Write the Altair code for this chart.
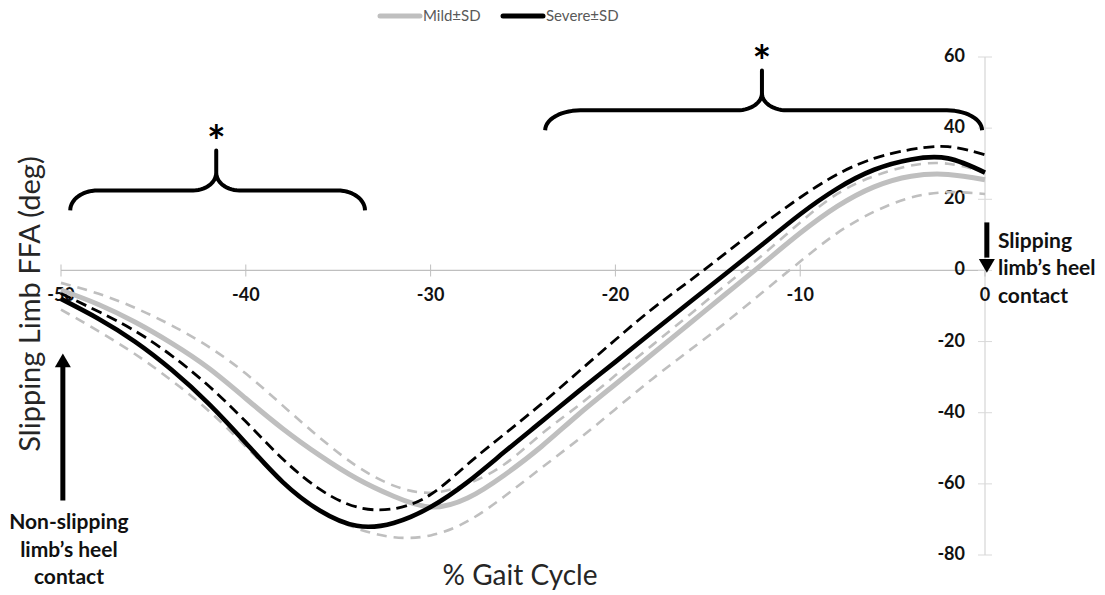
import math

import altair as alt
import pandas as pd

# Percent of the gait cycle, counted back from the slipping limb's heel contact
gait_pct = [-50, -48, -46, -44, -42, -40, -38, -36, -34, -32, -30, -28, -26,
            -24, -22, -20, -18, -16, -14, -12, -10, -8, -6, -4, -2, 0]

# Slipping-limb foot-floor angle (deg), mild slips
mild_mean = [-5.5, -9.5, -14.5, -20.5, -27.5, -36, -44.5, -52, -58.5, -63.5, -66.5, -64, -57.5,
             -49.5, -40.5, -32, -23.5, -15, -6.5, 2, 10.5, 18, 23.5, 26.5, 27, 25.5]
mild_plus_sd = [-3.5, -6.5, -10.5, -15.5, -21.5, -29, -38, -47, -55, -60.5, -62.5, -60, -54.5,
                -46, -38, -29.5, -21, -12.5, -4, 4.5, 13.5, 21.5, 26.5, 29.5, 30, 27.5]
mild_minus_sd = [-11, -17, -23.5, -31, -39.5, -49.5, -59.5, -67.5, -72.5, -75, -74.5, -70.5, -63.5,
                 -55.5, -47.5, -39, -30.5, -22.5, -14.5, -6, 2.5, 10.5, 16.5, 20.5, 22, 21.5]

# Slipping-limb foot-floor angle (deg), severe slips
severe_mean = [-8, -13.5, -20, -28, -37.5, -48.5, -59.5, -67.5, -71.8, -71, -66.5, -59.5, -51,
               -42.5, -34, -25.7, -17.3, -9, -0.8, 7.5, 15.8, 23, 28.3, 31.2, 31.5, 27.5]
severe_plus_sd = [-6.5, -11.5, -17, -24, -32.5, -42.5, -53, -61.5, -66.5, -67, -63, -54.5, -46,
                  -37.5, -28.5, -19.5, -10.8, -3, 5, 13, 20.5, 27, 31.5, 34, 34.8, 32.5]

group_names = ["Mild±SD", "Severe±SD"]
group_colors = ["#BFBFBF", "#000000"]
x_ticks = [-50, -40, -30, -20, -10, 0]
y_ticks = [-80, -60, -40, -20, 0, 20, 40, 60]

# Significance brackets: span, centre, heights (deg) and curl sizes
brace_specs = [
    dict(x0=-49.5, x1=-33.55, xm=-41.6, y_end=16.9, y_bar=22.5, y_tip=33.7,
         rx_end=1.5, rx_mid=1.25, ry_mid=5.0, star_y=38.8),
    dict(x0=-23.8, x1=-0.16, xm=-12.07, y_end=39.4, y_bar=45.0, y_tip=56.2,
         rx_end=1.9, rx_mid=1.35, ry_mid=4.8, star_y=61.3),
]

# Event arrows (x, shaft start, shaft end, head centre, head shape)
arrow_x = [-49.9, 0.1]
arrow_from = [-64.7, 13.5]
arrow_to = [-27.0, 3.6]
arrow_head_y = [-25.3, 1.3]
arrow_head = ["triangle-up", "triangle-down"]

note_right = ["Slipping", "limb’s heel", "contact"]
note_right_y = [7.9, 0.3, -7.4]
note_right_x = 0.7
note_left = ["Non-slipping", "limb’s heel", "contact"]
note_left_y = [-71.1, -79.0, -86.6]
note_left_x = -49.57

W, H = 924, 498
MARGIN = {"left": 61, "top": 57, "right": 120, "bottom": 40}
X_DOM = [-50, 0]
Y_DOM = [-80, 60]
FONT = "Lato"
INK = "#111111"

x_scale = alt.Scale(domain=X_DOM, nice=False, zero=False)
y_scale = alt.Scale(domain=Y_DOM, nice=False, zero=False)
color_scale = alt.Scale(domain=group_names, range=group_colors)


def pos(fx, fy):
    return dict(x=alt.X(fx, scale=x_scale, axis=None),
                y=alt.Y(fy, scale=y_scale, axis=None))


def series_frame(values, group, stat):
    return pd.DataFrame({"pct": gait_pct, "ffa": values, "group": group, "stat": stat})


# ---- axes: x axis runs along FFA = 0, y axis stands at 0 % gait cycle ----
axis_lines_df = pd.DataFrame({"ax0": [X_DOM[0], 0], "ax1": [X_DOM[1], 0],
                              "ay0": [0, Y_DOM[0]], "ay1": [0, Y_DOM[1]],
                              "c": ["#BFBFBF", "#D9D9D9"]})
axis_lines = alt.Chart(axis_lines_df).mark_rule(strokeWidth=1.3).encode(
    **pos("ax0:Q", "ay0:Q"), x2="ax1:Q", y2="ay1:Q", color=alt.Color("c:N", scale=None))

xtick_df = pd.DataFrame({"v": x_ticks, "zero": [0] * len(x_ticks),
                         "lab": [str(v) for v in x_ticks]})
ytick_df = pd.DataFrame({"v": y_ticks, "zero": [0] * len(y_ticks),
                         "lab": [str(v) for v in y_ticks]})

x_tick_marks = alt.Chart(xtick_df).mark_tick(orient="vertical", size=12, thickness=1,
                                             color="#BFBFBF", opacity=1).encode(
    **pos("v:Q", "zero:Q"))
y_tick_marks = alt.Chart(ytick_df).mark_tick(orient="horizontal", size=14, thickness=1,
                                             color="#D9D9D9", opacity=1).encode(
    **pos("zero:Q", "v:Q"))
x_labels = alt.Chart(xtick_df).mark_text(font=FONT, fontSize=18, fontWeight="bold", color=INK,
                                         align="center", baseline="middle", dy=26).encode(
    **pos("v:Q", "zero:Q"), text="lab:N")
y_labels = alt.Chart(ytick_df).mark_text(font=FONT, fontSize=18, fontWeight="bold", color=INK,
                                         align="right", baseline="middle", dx=-20).encode(
    **pos("zero:Q", "v:Q"), text="lab:N")

# ---- data series ----
mild_sd_df = pd.concat([series_frame(mild_plus_sd, group_names[0], "+SD"),
                        series_frame(mild_minus_sd, group_names[0], "-SD")])
mild_mean_df = series_frame(mild_mean, group_names[0], "mean")
severe_sd_df = series_frame(severe_plus_sd, group_names[1], "+SD")
severe_mean_df = series_frame(severe_mean, group_names[1], "mean")

SMOOTH = "natural"
color_enc = alt.Color("group:N", scale=color_scale, legend=None)

mild_sd = alt.Chart(mild_sd_df).mark_line(
    strokeWidth=2.6, strokeDash=[10, 7], interpolate=SMOOTH
).encode(**pos("pct:Q", "ffa:Q"), detail="stat:N", color=color_enc)

mild_line = alt.Chart(mild_mean_df).mark_line(strokeWidth=5, interpolate=SMOOTH).encode(
    **pos("pct:Q", "ffa:Q"), color=color_enc)

severe_sd = alt.Chart(severe_sd_df).mark_line(
    strokeWidth=2.8, strokeDash=[11, 6], interpolate=SMOOTH
).encode(**pos("pct:Q", "ffa:Q"), color=color_enc)

severe_line = alt.Chart(severe_mean_df).mark_line(strokeWidth=4.6, interpolate=SMOOTH).encode(
    **pos("pct:Q", "ffa:Q"), color=color_enc)


# ---- legend (line swatch + label per group), placed above the plot ----
def legend_entry(group, x_px):
    df = pd.DataFrame({"group": [group]})
    swatch = alt.Chart(df).mark_rule(strokeWidth=5, strokeCap="round").encode(
        x=alt.value(x_px), x2=alt.value(x_px + 40), y=alt.value(-41), color=color_enc)
    label = alt.Chart(df).mark_text(font=FONT, fontSize=15, color="#595959",
                                    align="left", baseline="middle").encode(
        x=alt.value(x_px + 43), y=alt.value(-41), text="group:N")
    return [swatch, label]


legend_layers = legend_entry(group_names[0], 319) + legend_entry(group_names[1], 442)


# ---- curly brackets drawn as ordered polylines ----
def brace_half(x_end, sign, s, n=14):
    pts = []
    for k in range(n + 1):
        t = k / n * math.pi / 2
        pts.append((x_end + sign * s["rx_end"] * (1 - math.cos(t)),
                    s["y_end"] + (s["y_bar"] - s["y_end"]) * math.sin(t)))
    for k in range(n + 1):
        t = k / n * math.pi / 2
        pts.append((s["xm"] - sign * s["rx_mid"] * (1 - math.sin(t)),
                    s["y_bar"] + s["ry_mid"] * (1 - math.cos(t))))
    pts.append((s["xm"], s["y_tip"]))
    return pts


brace_rows = []
for b, spec in enumerate(brace_specs):
    path = brace_half(spec["x0"], 1, spec) + list(reversed(brace_half(spec["x1"], -1, spec)))
    for i, (bx, by) in enumerate(path):
        brace_rows.append({"brace": b, "i": i, "bx": bx, "by": by})
brace_df = pd.DataFrame(brace_rows)

braces = alt.Chart(brace_df).mark_line(color="#000000", strokeWidth=4, strokeJoin="round").encode(
    **pos("bx:Q", "by:Q"), detail="brace:N", order="i:Q")

stars_df = pd.DataFrame({"sx": [s["xm"] for s in brace_specs],
                         "sy": [s["star_y"] for s in brace_specs], "t": ["*", "*"]})
stars = alt.Chart(stars_df).mark_text(font=FONT, fontSize=44, fontWeight="bold", color="#000000",
                                      baseline="middle", dy=12).encode(
    **pos("sx:Q", "sy:Q"), text="t:N")

arrow_df = pd.DataFrame({"ax": arrow_x, "a0": arrow_from, "a1": arrow_to,
                         "hy": arrow_head_y, "shape": arrow_head})
shafts = alt.Chart(arrow_df).mark_rule(color="#000000", strokeWidth=5).encode(
    **pos("ax:Q", "a0:Q"), y2="a1:Q")
heads = alt.Chart(arrow_df).mark_point(filled=True, color="#000000", size=256, opacity=1).encode(
    **pos("ax:Q", "hy:Q"),
    shape=alt.Shape("shape:N", scale=alt.Scale(domain=arrow_head, range=arrow_head), legend=None))

notes_df = pd.DataFrame({"nx": [note_right_x] * 3, "ny": note_right_y, "t": note_right})
notes_r = alt.Chart(notes_df).mark_text(font=FONT, fontSize=21, fontWeight="bold", color=INK,
                                        align="left", baseline="middle").encode(
    **pos("nx:Q", "ny:Q"), text="t:N")
notes_l_df = pd.DataFrame({"nx": [note_left_x] * 3, "ny": note_left_y, "t": note_left})
notes_l = alt.Chart(notes_l_df).mark_text(font=FONT, fontSize=21, fontWeight="bold", color=INK,
                                          align="center", baseline="middle").encode(
    **pos("nx:Q", "ny:Q"), text="t:N")

y_title = alt.Chart(pd.DataFrame({"t": ["Slipping Limb FFA (deg)"]})).mark_text(
    font=FONT, fontSize=29, color="#262626", angle=270, align="center", baseline="middle"
).encode(text="t:N", x=alt.value(-30), y=alt.value(247))
x_title = alt.Chart(pd.DataFrame({"t": ["% Gait Cycle"]})).mark_text(
    font=FONT, fontSize=28, color="#262626", align="center", baseline="middle"
).encode(text="t:N", x=alt.value(459), y=alt.value(520))

# Invisible page frame: fixes the chart's outer bounds to the full page
frame = alt.Chart(pd.DataFrame({"f": [0]})).mark_rect(opacity=0).encode(
    x=alt.value(-MARGIN["left"]), x2=alt.value(W + MARGIN["right"]),
    y=alt.value(-MARGIN["top"]), y2=alt.value(H + MARGIN["bottom"]))

chart = alt.layer(
    frame, axis_lines, x_tick_marks, y_tick_marks, x_labels, y_labels,
    mild_sd, mild_line, severe_sd, severe_line,
    braces, stars, shafts, heads, notes_r, notes_l, y_title, x_title,
    *legend_layers
).properties(
    width=W, height=H,
    background="#ffffff",
    padding=0,
).configure_view(stroke="transparent")

chart.save("out.html", embed_options={"renderer": "svg", "actions": False})
